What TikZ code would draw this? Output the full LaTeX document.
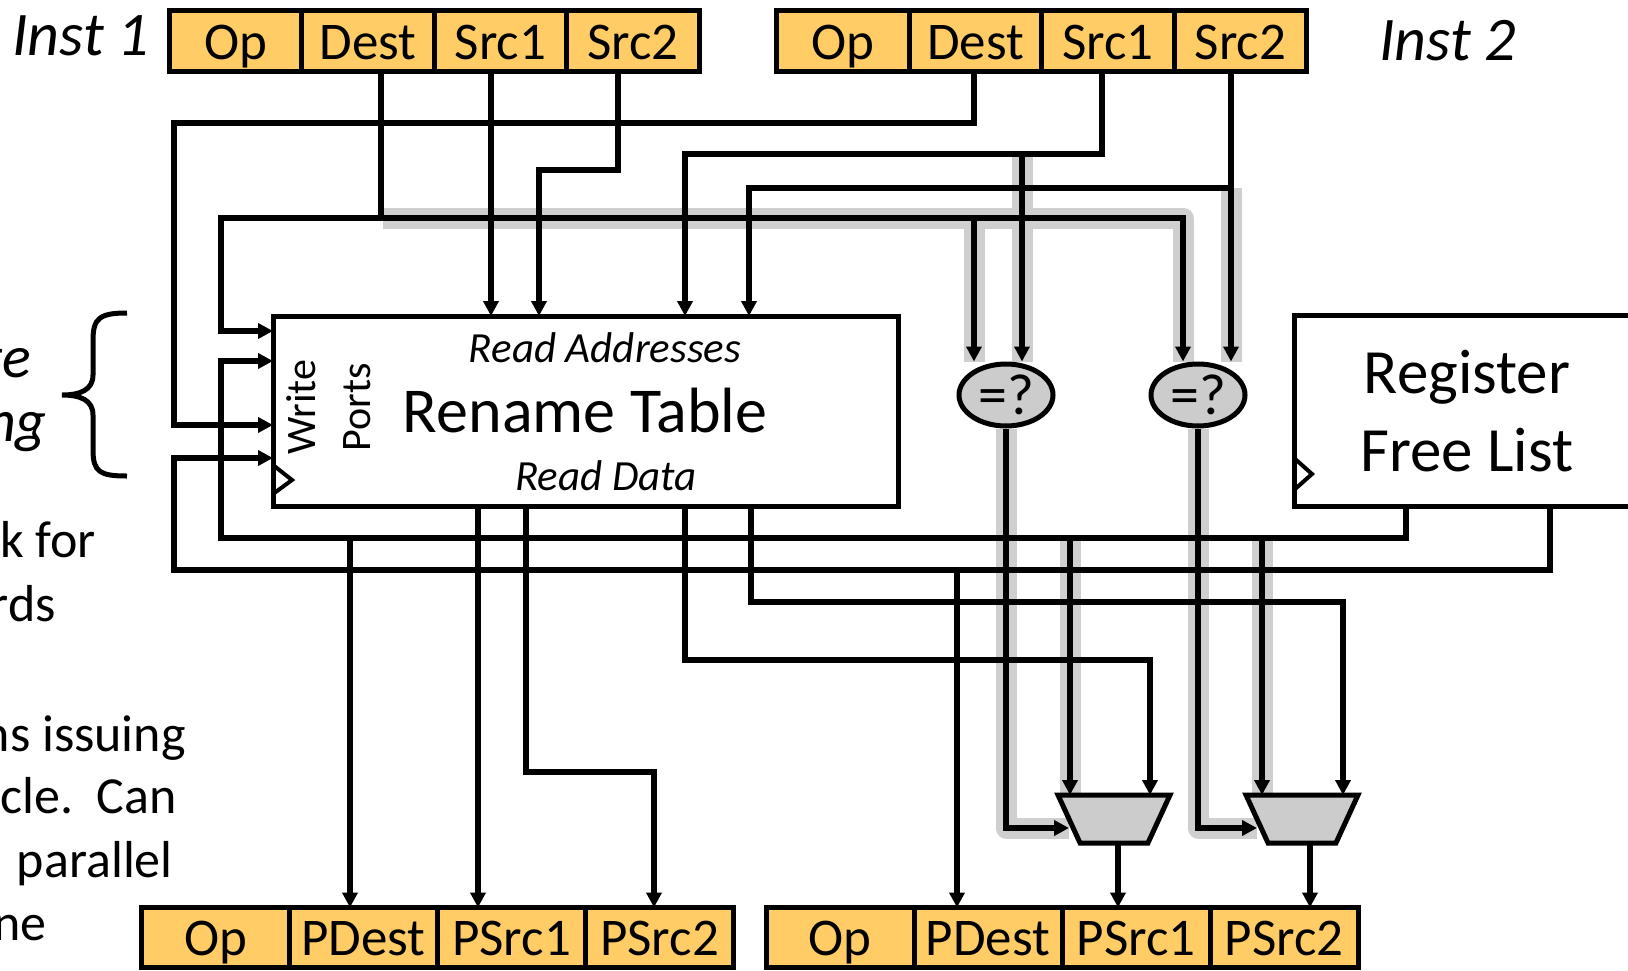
\documentclass[tikz,border=0pt]{standalone}
\usepackage{fontspec}
\setmainfont{Carlito}
\usetikzlibrary{positioning,arrows.meta,shapes.geometric,backgrounds}
\definecolor{fieldfill}{HTML}{FFCC66}
\definecolor{hilitegray}{HTML}{CFCFCF}

\begin{document}
\begin{tikzpicture}[x=1pt, y=-1pt,
  wire/.style={line width=5.5pt},
  feed/.style={wire, -{Triangle[length=15pt,width=15pt]}},
  hilite/.style={line width=21pt, draw=hilitegray, line join=round},
  field/.style={draw, line width=5pt, fill=fieldfill, minimum width=132.5pt, minimum height=61pt,
    inner sep=0pt, outer sep=0pt, text height=44pt, text depth=8pt, font=\fontsize{53}{60}\selectfont},
  pfield/.style={field, minimum width=148pt, minimum height=60pt},
  block/.style={draw, line width=5pt, inner sep=0pt, outer sep=0pt},
  cmp/.style={ellipse, draw, line width=5pt, fill=black!20, minimum width=94pt, minimum height=62pt,
    inner sep=0pt, font=\fontsize{58}{60}\selectfont},
  mux/.style={trapezium, shape border rotate=180, trapezium left angle=72, trapezium right angle=72,
    trapezium stretches=true, draw, line width=5pt, fill=black!20, minimum width=112pt,
    minimum height=48pt, inner sep=2pt, outer sep=0pt},
  lbl/.style={inner sep=0pt, font=\fontsize{42}{55}\selectfont},
  side/.style={inner sep=0pt, anchor=base east, font=\fontsize{52}{64}\selectfont},
]
\useasboundingbox (0,0) rectangle (1628,970);

% instruction fields
\node[field] (i1op) at (235.5,41) {Op};
\node[field, right=0pt of i1op] (i1dest) {Dest};
\node[field, right=0pt of i1dest] (i1src1) {Src1};
\node[field, right=0pt of i1src1] (i1src2) {Src2};
\node[anchor=base west, inner sep=0pt, font=\fontsize{62}{70}\selectfont\itshape] (i1lbl) at (12,55) {Inst 1};

\node[field] (i2op) at (843,41) {Op};
\node[field, right=0pt of i2op] (i2dest) {Dest};
\node[field, right=0pt of i2dest] (i2src1) {Src1};
\node[field, right=0pt of i2src1] (i2src2) {Src2};
\node[anchor=base west, inner sep=0pt, font=\fontsize{62}{70}\selectfont\itshape] (i2lbl) at (1379,60) {Inst 2};

% rename table
\node[block, minimum width=625pt, minimum height=190pt] (rt) at (585.5,411) {};
\node[lbl, anchor=base, font=\fontsize{43}{48}\selectfont\itshape] (rtaddr) at (605,362) {Read Addresses};
\node[lbl, anchor=base, font=\fontsize{64}{70}\selectfont] (rtname) at (585,432) {Rename Table};
\node[lbl, anchor=base, font=\fontsize{43}{48}\selectfont\itshape] (rtdata) at (606,490) {Read Data};
\node[lbl, rotate=90, align=center] (rtports) at (329,407) {Write\\Ports};
\draw[line width=4pt] ([yshift=41pt]rt.south west) -- ++(19,15) -- ++(-19,14);

% free list
\node[block, minimum width=346pt, minimum height=191pt, align=center, font=\fontsize{63}{78}\selectfont] (fl) at (1467,411) {Register\\Free List};
\draw[line width=4pt] ([yshift=48.5pt]fl.south west) -- ++(18,16) -- ++(-18,16);

% comparators and muxes
\node[cmp] (cmp1) at (1006,395) {=?};
\node[cmp] (cmp2) at (1198,395) {=?};
\node[mux] (mux1) at (1114,819) {};
\node[mux] (mux2) at (1302,819) {};

% renamed fields
\node[pfield] (o1op) at (215.5,937.5) {Op};
\node[pfield, right=0pt of o1op] (o1dest) {PDest};
\node[pfield, right=0pt of o1dest] (o1src1) {PSrc1};
\node[pfield, right=0pt of o1src1] (o1src2) {PSrc2};
\node[pfield] (o2op) at (840,937.5) {Op};
\node[pfield, right=0pt of o2op] (o2dest) {PDest};
\node[pfield, right=0pt of o2dest] (o2src1) {PSrc1};
\node[pfield, right=0pt of o2src1] (o2src2) {PSrc2};

% ports and lanes
\coordinate (wp1) at ([yshift=-15pt]rt.north west);
\coordinate (wp2) at ([yshift=-45pt]rt.north west);
\coordinate (wp3) at ([yshift=-109pt]rt.north west);
\coordinate (wp4) at ([yshift=-142pt]rt.north west);
\coordinate (c1l) at ([xshift=-32pt]cmp1.north);
\coordinate (c1r) at ([xshift=16pt]cmp1.north);
\coordinate (c2l) at ([xshift=-15pt]cmp2.north);
\coordinate (c2r) at ([xshift=33pt]cmp2.north);
\coordinate (m1l) at ([xshift=-44pt]mux1.north);
\coordinate (m1r) at ([xshift=36pt]mux1.north);
\coordinate (m2l) at ([xshift=-40pt]mux2.north);
\coordinate (m2r) at ([xshift=41pt]mux2.north);
\coordinate (m1sel) at ([yshift=-9pt]mux1.west);
\coordinate (m2sel) at ([yshift=-9pt]mux2.west);
\coordinate (m1o) at ([xshift=4pt]mux1.south);
\coordinate (m2o) at ([xshift=8pt]mux2.south);
\coordinate (wa) at (221,0);
\coordinate (wb) at (174,0);
\coordinate (dbus) at (381,218);
\coordinate (s11) at (491,0);
\coordinate (s12) at (618,170);
\coordinate (s12in) at (539,0);
\coordinate (d2row) at (974,123);
\coordinate (s21) at (1102,154);
\coordinate (s21in) at (685,0);
\coordinate (s22row) at (749,188);
\coordinate (fl1row) at (1406,538);
\coordinate (fl2row) at (1550,570);
\coordinate (pd1) at (350,0);
\coordinate (pd2) at (957,0);
\coordinate (rd1) at (478,0);
\coordinate (rd2) at (526,772);
\coordinate (rd2b) at (654,0);
\coordinate (rd3) at (685,660);
\coordinate (rd4) at (751,602);

% dependency check paths
\begin{scope}[on background layer]
  \draw[hilite] ([xshift=2pt]dbus) -| (c2l);
  \draw[hilite] (c1l |- dbus) -- (c1l);
  \draw[hilite] (c1r |- s21) -- (c1r);
  \draw[hilite] (c2r |- s22row) -- (c2r);
  \draw[hilite] (cmp1.south) |- (m1sel);
  \draw[hilite] (cmp2.south) |- (m2sel);
  \draw[hilite] (m1l |- fl1row) -- (m1l);
  \draw[hilite] (m2l |- fl1row) -- (m2l);
\end{scope}

% inst 1
\draw[feed] (i1dest.south -| dbus) -- (dbus) -| (wa |- wp1) -- (wp1);
\draw[feed] (dbus) -| (c2l);
\draw[feed] (c1l |- dbus) -- (c1l);
\draw[feed] (i1src1.south -| s11) -- (rt.north -| s11);
\draw[feed] (i1src2.south -| s12) -- (s12) -| (rt.north -| s12in);

% inst 2
\draw[feed] (i2dest.south -| d2row) -- (d2row) -| (wb |- wp3) -- (wp3);
\draw[feed] (i2src1.south -| s21) -- (s21) -| (rt.north -| s21in);
\draw[feed] (c1r |- s21) -- (c1r);
\draw[feed] (i2src2.south -| c2r) -- (c2r);
\draw[feed] (c2r |- s22row) -| (rt.north -| s22row);

% free list
\draw[feed] (fl.south -| fl1row) -- (fl1row) -| (wa |- wp2) -- (wp2);
\draw[feed] (pd1 |- fl1row) -- (o1dest.north -| pd1);
\draw[feed] (m1l |- fl1row) -- (m1l);
\draw[feed] (m2l |- fl1row) -- (m2l);
\draw[feed] (fl.south -| fl2row) -- (fl2row) -| (wb |- wp4) -- (wp4);
\draw[feed] (pd2 |- fl2row) -- (o2dest.north -| pd2);

% read data
\draw[feed] (rt.south -| rd1) -- (o1src1.north -| rd1);
\draw[feed] (rt.south -| rd2) -- (rd2) -| (o1src2.north -| rd2b);
\draw[feed] (rt.south -| rd3) -- (rd3) -| (m1r);
\draw[feed] (rt.south -| rd4) -- (rd4) -| (m2r);

% selects and outputs
\draw[feed] (cmp1.south) |- (m1sel);
\draw[feed] (cmp2.south) |- (m2sel);
\draw[feed] (m1o) -- (o2src1.north -| m1o);
\draw[feed] (m2o) -- (o2src2.north -| m2o);

% side notes
\draw[line width=5pt] (127,313) .. controls (100,313) and (93,318) .. (93,340) -- (93,375)
  .. controls (93,390) and (80,395) .. (62,395) .. controls (80,395) and (93,400) .. (93,415)
  -- (93,450) .. controls (93,472) and (100,476) .. (127,476);
\node[side, font=\fontsize{60}{64}\selectfont\itshape] (note1) at (31,377) {te};
\node[side, font=\fontsize{60}{64}\selectfont\itshape] (note2) at (47,441) {ng};
\node[side] (note3) at (96,557) {k for};
\node[side] (note4) at (56,621) {rds};
\node[side] (note5) at (186,751) {ns issuing};
\node[side] (note6) at (177,813) {cle.\ \ Can};
\node[side] (note7) at (173,877) {parallel};
\node[side] (note8) at (47,940) {ne};
\end{tikzpicture}
\end{document}
